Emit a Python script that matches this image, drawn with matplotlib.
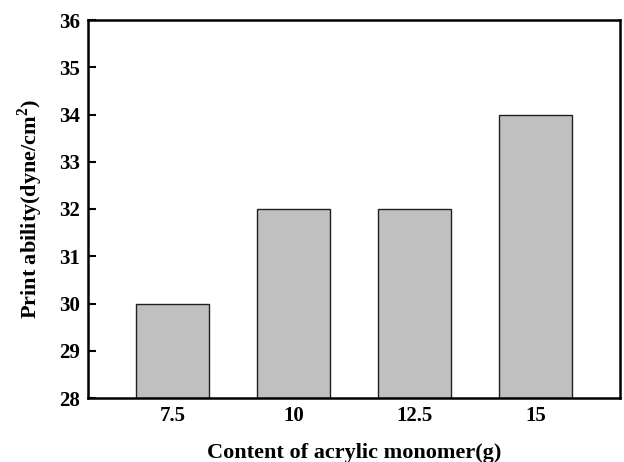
import matplotlib
matplotlib.use("Agg")
import matplotlib.pyplot as plt

# data
categorias = ["7.5", "10", "12.5", "15"]
valores = [30, 32, 32, 34]

plt.rcParams['font.family'] = ['Liberation Serif', 'DejaVu Serif']
plt.rcParams['font.weight'] = 'bold'
plt.rcParams['mathtext.fontset'] = 'custom'
plt.rcParams['mathtext.rm'] = 'Liberation Serif:bold'
plt.rcParams['mathtext.bf'] = 'Liberation Serif:bold'

fig = plt.figure(figsize=(6.24, 4.62), dpi=100)
ax = fig.add_axes([88/624, 1 - 398/462, (620-88)/624, (398-20)/462])

pos = range(len(categorias))
ax.bar(pos, valores, width=0.6, color='#c0c0c0', edgecolor='#202020',
       linewidth=1.0)

ax.set_ylim(28, 36)
ax.set_xlim(-0.7, 3.7)
ax.set_xticks(list(pos))
ax.set_xticklabels(categorias)
ax.set_yticks(range(28, 37))

ax.tick_params(axis='y', direction='in', length=6, width=1.5, labelsize=15, pad=6)
ax.tick_params(axis='x', length=0, labelsize=15, pad=6)
for lab in ax.get_xticklabels() + ax.get_yticklabels():
    lab.set_fontweight('bold')
for s in ax.spines.values():
    s.set_linewidth(1.8)

ax.set_xlabel('Content of acrylic monomer(g)', fontsize=16, fontweight='bold', labelpad=12)
ax.set_ylabel('Print ability(dyne/cm$^\\mathbf{2}$)', fontsize=16, fontweight='bold', labelpad=10)

plt.savefig('out.png', dpi=100)
